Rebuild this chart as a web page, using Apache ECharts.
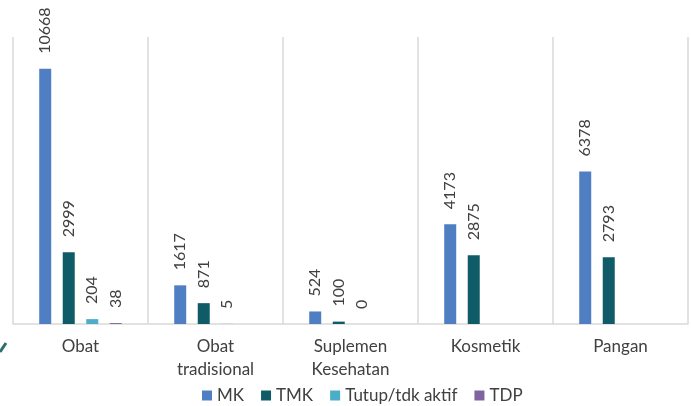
<!DOCTYPE html>
<html><head><meta charset="utf-8">
<script src="https://cdn.jsdelivr.net/npm/echarts@6/dist/echarts.min.js"></script>
<style>html,body{margin:0;padding:0;background:#fff}#c{width:691px;height:406px}</style>
</head><body><div id="c"></div>
<script>
const categories = ['Obat', 'Obat\ntradisional', 'Suplemen\nKesehatan', 'Kosmetik', 'Pangan'];
const seriesNames = ['MK', 'TMK', 'Tutup/tdk aktif', 'TDP'];
const mk = [10668, 1617, 524, 4173, 6378];
const tmk = [2999, 871, 100, 2875, 2793];
const tutup = [204, 5, 0, null, null];
const tdp = [38, null, null, null, null];
const colors = ['#4F7EC2', '#0F5B68', '#4BADC8', '#8064A2'];

const font = 'Lato, "Open Sans", sans-serif';
const chart = echarts.init(document.getElementById('c'), null, {renderer: 'canvas'});
function mkSeries(name, data, color) {
  return {
    name, type: 'bar', data, barWidth: 12, barGap: '96%',
    itemStyle: {color},
    label: {
      show: true, position: 'top', rotate: 90, align: 'left', verticalAlign: 'middle',
      distance: 15, fontSize: 16, color: '#404040', fontFamily: font,
      formatter: p => (p.value === null || p.value === undefined) ? '' : String(p.value)
    }
  };
}
chart.setOption({
  animation: false,
  color: colors,
  grid: {left: 13, right: 3, top: 37, bottom: 82, containLabel: false},
  legend: {
    top: 387, left: 202, itemWidth: 10, itemHeight: 10, itemGap: 17, padding: 0,
    icon: 'rect', textStyle: {fontSize: 17, color: '#404040', fontFamily: font},
    data: seriesNames
  },
  xAxis: {
    type: 'category', data: categories,
    axisLine: {lineStyle: {color: '#d9d9d9', width: 1.5}},
    axisTick: {show: false},
    splitLine: {show: true, interval: 0, lineStyle: {color: '#d9d9d9', width: 1.5}},
    axisLabel: {interval: 0, margin: 11, fontSize: 17, color: '#404040', fontFamily: font, lineHeight: 23}
  },
  yAxis: {
    type: 'value', min: 0, max: 12000, show: false, splitLine: {show: false}
  },
  series: [
    mkSeries(seriesNames[0], mk, colors[0]),
    mkSeries(seriesNames[1], tmk, colors[1]),
    mkSeries(seriesNames[2], tutup, colors[2]),
    mkSeries(seriesNames[3], tdp, colors[3])
  ],
  graphic: [{
    type: 'polyline', shape: {points: [[0, 352], [6, 343]]},
    style: {stroke: '#2E6E6E', lineWidth: 3}
  }]
});
</script></body></html>
